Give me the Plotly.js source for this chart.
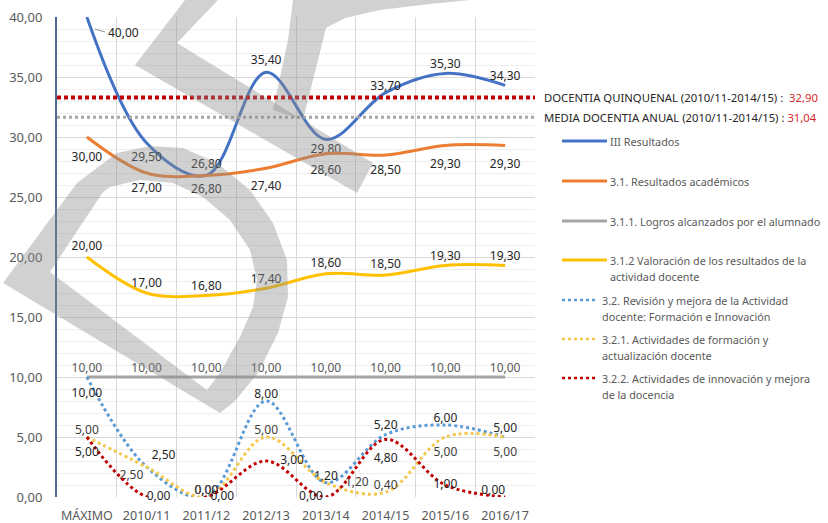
<!DOCTYPE html>
<html>
<head>
<meta charset="utf-8">
<script src="https://cdn.plot.ly/plotly-3.0.1.min.js"></script>
<style>html,body{margin:0;padding:0;background:#fff;}#chart{width:828px;height:523px;}</style>
</head>
<body>
<div id="chart"></div>
<script>
// ---------- data ----------
const categories = ['MÁXIMO','2010/11','2011/12','2012/13','2013/14','2014/15','2015/16','2016/17'];
const resultados  = [40, 29.5, 26.8, 35.4, 29.8, 33.7, 35.3, 34.3];
const academicos  = [30, 27, 26.8, 27.4, 28.6, 28.5, 29.3, 29.3];
const logros      = [10, 10, 10, 10, 10, 10, 10, 10];
const valoracion  = [20, 17, 16.8, 17.4, 18.6, 18.5, 19.3, 19.3];
const revision    = [10, 2.5, 0, 8, 1.2, 5.2, 6, 5];
const formacion   = [5, 2.5, 0, 5, 1.2, 0.4, 5, 5];
const innovacion  = [5, 0, 0, 3, 0, 4.8, 1, 0];
const seriesNames = [
  'III Resultados',
  '3.1. Resultados académicos',
  '3.1.1. Logros alcanzados por el alumnado',
  '3.1.2 Valoración de los resultados de la actividad docente',
  '3.2. Revisión y mejora de la Actividad docente: Formación e Innovación',
  '3.2.1. Actividades de formación y actualización docente',
  '3.2.2. Actividades de innovación y mejora de la docencia'
];
const legendLines = [
  ['III Resultados'],
  ['3.1. Resultados académicos'],
  ['3.1.1. Logros alcanzados por el alumnado'],
  ['3.1.2 Valoración de los resultados de la', 'actividad docente'],
  ['3.2. Revisión y mejora de la Actividad', 'docente: Formación e Innovación'],
  ['3.2.1. Actividades de formación y', 'actualización docente'],
  ['3.2.2. Actividades de innovación y mejora', 'de la docencia']
];
const quinquenalLabel = 'DOCENTIA QUINQUENAL (2010/11-2014/15) : ';
const quinquenalValue = '32,90';
const anualLabel = 'MEDIA DOCENTIA ANUAL (2010/11-2014/15) : ';
const anualValue = '31,04';
const quinquenalLineY = 33.3;
const anualLineY = 31.65;

// ---------- styles ----------
const FONT = 'Noto Sans, Open Sans, sans-serif';
const colors = ['#4472c4','#ed7d31','#a5a5a5','#ffc000','#5b9bd5','#f2c94c','#c00000'];
const dashes = ['solid','solid','solid','solid','dot','dot','dot'];
const values = [resultados, academicos, logros, valoracion, revision, formacion, innovacion];
const textColors = ['#262626','#262626','#595959','#262626','#262626','#404040','#262626'];
const positions = [
  ['bottom right','bottom center','top center','top center','bottom center','top center','top center','top center'],
  ['bottom center','bottom center','bottom center','bottom center','bottom center','bottom center','bottom center','bottom center'],
  ['top center','top center','top center','top center','top center','top center','top center','top center'],
  ['top center','top center','top center','top center','top center','top center','top center','top center'],
  ['bottom center','top right','top center','top center','top center','top center','top center','top center'],
  ['top center','bottom left','top center','top center','middle right','top center','bottom center','bottom center'],
  ['bottom center','middle right','middle right','middle right','middle left','bottom center','middle center','top left']
];
// label distance from the point (pixels), realised through an invisible marker radius
const labelGap = [
  [0, 9.3, 4.7, 4.7, 4.3, 0.7, 2.7, 2.7],
  [15.3, 10.3, 8.3, 13.3, 11.3, 10.3, 13.3, 13.3],
  [1.7, 1.7, 1.7, 1.7, 1.7, 1.7, 1.7, 1.7],
  [3.7, 2.7, 2.7, 1.7, 3.7, 3.7, 2.7, 2.7],
  [11.3, 5, 0, 0, 0, 2.7, 0.7, 1.7],
  [0, 3.3, 0, 0, 19, 0, 10.3, 10.3],
  [10.3, 0, 4, 14, 3, 13.3, 0, 0]
];
const gapToSize = r => (r <= 1 ? 0 : 1.6 * (r - 1));

const traces = values.map((v, i) => ({
  type: 'scatter',
  mode: 'lines+markers+text',
  x: categories,
  y: v,
  name: seriesNames[i],
  line: {color: colors[i], width: 3, shape: 'spline', smoothing: 1, dash: dashes[i]},
  marker: {size: labelGap[i].map(gapToSize), color: 'rgba(0,0,0,0)', line: {width: 0}},
  // the first point of III Resultados is labelled with a leader line (annotation below)
  texttemplate: v.map((_, k) => (i === 0 && k === 0) ? ' ' : '%{y:.2f}'),
  textposition: positions[i],
  textfont: {family: FONT, size: 12, color: textColors[i]},
  cliponaxis: false,
  showlegend: false,
  hoverinfo: 'skip'
}));

// pixel -> paper helpers (layout positioning only)
const L = 57, R = 535, T = 17, B = 497;
const X = px => (px - L) / (R - L);
const Y = py => (B - py) / (B - T);

const shapes = [];
const annotations = [];

// label with leader line for the MÁXIMO point of III Resultados
annotations.push({x: categories[0], y: resultados[0], xref:'x', yref:'y', showarrow:false,
  text: resultados[0].toFixed(2).replace('.', ','), xshift: 37, yshift: -15,
  font:{family:FONT, size:12, color:'#262626'}});
shapes.push({type:'line', xref:'paper', yref:'paper', x0:X(95), y0:Y(29), x1:X(105), y1:Y(32),
  line:{color:'#8c8c8c', width:1}});

// reference lines
shapes.push({type:'line', xref:'paper', yref:'y', x0:0, x1:1, y0:quinquenalLineY, y1:quinquenalLineY,
  line:{color:'#c00000', width:4, dash:'4px,3px'}});
shapes.push({type:'line', xref:'paper', yref:'y', x0:0, x1:1, y0:anualLineY, y1:anualLineY,
  line:{color:'#a6a6a6', width:3, dash:'3px,3px'}});

// header texts
annotations.push({xref:'paper', yref:'paper', x:X(542), y:Y(98), xanchor:'left', yanchor:'middle', showarrow:false,
  text: quinquenalLabel + ' <span style="color:#d42a2a">' + quinquenalValue + '</span>',
  font:{family:FONT, size:11.3, color:'#262626'}});
annotations.push({xref:'paper', yref:'paper', x:X(542), y:Y(117), xanchor:'left', yanchor:'middle', showarrow:false,
  text: anualLabel + '<span style="color:#d42a2a">' + anualValue + '</span>',
  font:{family:FONT, size:11.3, color:'#262626'}});

// legend
const legendY = [141, 181, 221, 260, 300, 339, 378];
legendLines.forEach((lines, i) => {
  const solid = dashes[i] === 'solid';
  shapes.push({type:'line', xref:'paper', yref:'paper', x0:X(562), x1:X(solid ? 607 : 597), y0:Y(legendY[i]), y1:Y(legendY[i]),
    line:{color:colors[i], width: solid ? 3 : 2.5, dash: solid ? 'solid' : 'dot'}});
  lines.forEach((t, k) => {
    annotations.push({xref:'paper', yref:'paper', x:X(solid ? 608 : 600), y:Y(legendY[i] + k * 16.5), xanchor:'left', yanchor:'middle',
      showarrow:false, text:t, font:{family:FONT, size:10.8, color:'#595959'}});
  });
});

// watermark (light grey translucent logo strokes)
function poly(pts){ return 'M ' + pts.map(p => X(p[0]).toFixed(4) + ',' + Y(p[1]).toFixed(4)).join(' L ') + ' Z'; }
const wmFill = 'rgba(140,140,140,0.40)';
const dOuter = [[3,283],[77,183],[117,153],[150,146],[183,148],[217,163],[250,190],[273,223],[287,260],[288,297],[278,333],[258,373],[234,402],[220,413]];
const dInner = [[50,272],[207,390],[220,373],[240,337],[253,307],[257,280],[250,250],[230,220],[203,197],[173,183],[140,180],[110,187],[103,192]];
shapes.push({type:'path', xref:'paper', yref:'paper', layer:'above', fillrule:'evenodd', path: poly(dOuter) + ' ' + poly(dInner),
  fillcolor: wmFill, line:{width:0}});
const chevron = [[135,65],[185,0],[218,0],[177,43],[373,163],[357,193]];
shapes.push({type:'path', xref:'paper', yref:'paper', layer:'above', path: poly(chevron), fillcolor: wmFill, line:{width:0}});
const hook = [[273,110],[288,40],[293,0],[470,0],[430,4],[380,10],[345,18],[326,28],[303,120]];
shapes.push({type:'path', xref:'paper', yref:'paper', layer:'above', path: poly(hook), fillcolor: wmFill, line:{width:0}});

const layout = {
  width: 828, height: 523,
  margin: {l: L, r: 828 - R, t: T, b: 523 - B, pad: 0},
  paper_bgcolor: '#ffffff', plot_bgcolor: '#ffffff',
  separators: ',.',
  showlegend: false,
  font: {family: FONT, color: '#595959'},
  xaxis: {
    type: 'category', range: [-0.5, 7.5], tickson: 'boundaries', tickangle: 0,
    showgrid: true, gridcolor: '#d9d9d9', gridwidth: 1,
    ticks: '', ticklabelstandoff: 9,
    tickfont: {family: FONT, size: 12.5, color: '#595959'},
    showline: false, zeroline: false, fixedrange: true, automargin: false
  },
  yaxis: {
    range: [0, 40], dtick: 5, tick0: 0, tickformat: '.2f',
    showgrid: true, gridcolor: '#d9d9d9', gridwidth: 1,
    minor: {dtick: 1, showgrid: true, gridcolor: '#efefef', gridwidth: 1},
    ticks: 'outside', ticklen: 10, tickcolor: 'rgba(0,0,0,0)',
    tickfont: {family: FONT, size: 13, color: '#595959'},
    showline: true, linecolor: '#4f6a92', linewidth: 2,
    zeroline: false, fixedrange: true, automargin: false
  },
  shapes: shapes,
  annotations: annotations
};

Plotly.newPlot('chart', traces, layout, {staticPlot: true, displayModeBar: false});
</script>
</body>
</html>
